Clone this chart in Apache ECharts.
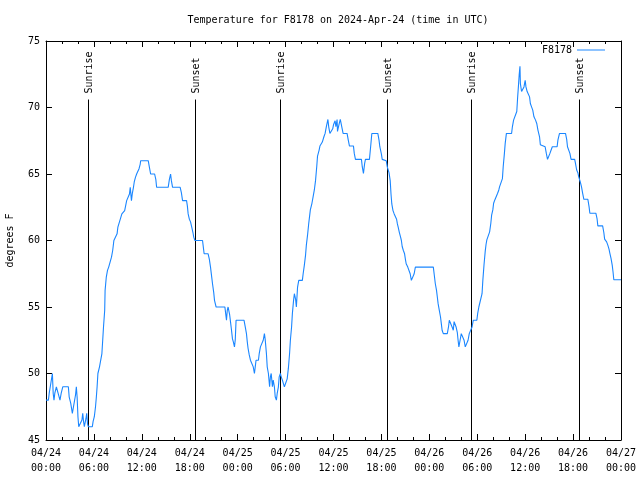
<!DOCTYPE html>
<html>
<head>
<meta charset="utf-8">
<script src="https://cdn.jsdelivr.net/npm/echarts@6/dist/echarts.min.js"></script>
<style>html,body{margin:0;padding:0;background:#fff}#c{width:640px;height:480px}</style>
</head>
<body>
<div id="c"></div>
<script>
// Hours since 2024-04-24 00:00 UTC
const hours = [0.0,0.3,0.4,0.6,0.8,0.9,1.0,1.1,1.3,1.5,1.75,1.9,2.1,2.8,2.9,3.1,3.3,3.5,3.7,3.8,3.9,4.0,4.1,4.3,4.5,4.6,4.7,4.8,5.0,5.1,5.2,5.3,5.8,5.9,6.05,6.2,6.3,6.4,6.5,6.7,6.85,7.0,7.1,7.2,7.35,7.4,7.55,7.7,7.85,8.05,8.2,8.35,8.5,8.75,8.9,9.0,9.2,9.35,9.5,9.7,9.85,10.0,10.1,10.3,10.45,10.55,10.7,10.8,10.95,11.05,11.2,11.35,11.55,11.65,11.8,11.85,12.8,12.95,13.1,13.6,13.75,13.85,15.3,15.45,15.6,15.7,15.85,16.8,16.95,17.1,17.6,17.7,17.8,17.95,18.1,18.25,18.4,18.5,18.65,19.6,19.7,19.8,20.3,20.45,20.6,20.75,20.85,21.0,21.1,21.3,22.4,22.5,22.6,22.7,22.8,23.0,23.1,23.2,23.35,23.45,23.6,23.7,23.8,24.8,24.95,25.1,25.2,25.3,25.45,25.6,25.8,25.95,26.1,26.2,26.3,26.6,26.7,26.85,27.1,27.2,27.35,27.45,27.6,27.7,27.85,28.0,28.1,28.2,28.35,28.45,28.6,28.7,28.85,28.95,29.1,29.2,29.35,29.45,29.6,29.85,30.1,30.2,30.35,30.5,30.6,30.75,30.85,31.0,31.1,31.25,31.35,31.5,31.65,32.1,32.2,32.35,32.5,32.6,32.75,32.9,33.0,33.1,33.3,33.45,33.6,33.75,33.9,34.0,34.2,34.3,34.5,34.6,34.8,34.95,35.1,35.3,35.4,35.55,35.75,35.9,36.0,36.2,36.3,36.45,36.5,36.7,36.85,37.05,37.2,37.7,37.85,38.0,38.5,38.6,38.75,39.5,39.6,39.75,39.9,40.0,40.5,40.65,40.8,41.55,41.7,41.8,42.0,42.1,42.6,42.75,42.95,43.1,43.2,43.3,43.45,43.6,43.75,43.9,44.0,44.1,44.25,44.4,44.5,44.6,44.75,44.9,45.0,45.1,45.3,45.5,45.6,45.75,45.95,46.1,46.25,48.5,48.6,48.75,48.9,49.0,49.1,49.25,49.4,49.5,49.6,49.75,50.25,50.4,50.5,50.7,50.85,51.0,51.1,51.2,51.35,51.5,51.6,51.7,51.85,52.0,52.25,52.35,52.5,52.7,52.85,53.0,53.2,53.35,53.5,53.95,54.05,54.2,54.45,54.6,54.7,54.85,55.0,55.1,55.2,55.4,55.55,55.7,55.8,55.95,56.05,56.2,56.45,56.55,56.7,56.8,57.0,57.15,57.25,57.4,57.5,57.65,58.3,58.4,58.55,58.8,58.95,59.05,59.15,59.25,59.35,59.4,59.55,59.7,59.85,60.0,60.1,60.25,60.4,60.55,60.65,60.8,60.95,61.1,61.3,61.45,61.6,61.8,61.9,62.1,62.5,62.65,62.8,63.0,63.1,63.25,63.4,64.0,64.1,64.3,65.05,65.2,65.3,65.5,65.6,65.75,66.2,66.3,66.45,66.6,66.7,66.9,67.05,67.2,67.35,67.85,68.0,68.1,68.85,69.0,69.1,69.7,69.85,69.95,70.2,70.35,70.5,70.6,70.75,70.9,71.0,71.1,72.0];
const temps = [48,48,48.5,49.25,50,48.5,48,48.5,49,49,48,48.5,49,49,48.25,47.75,47,47,48.4,49,48.2,46.75,46,46,46.5,47,46.4,46,46.6,47,46.2,46,46,46.4,46.75,47.5,48.2,49,50,50.5,50.5,51.5,52.5,53.5,54.75,56.25,57.25,57.75,58,58,58.75,59.25,60,60,60.5,61,61,61.7,62,62,62.25,62.7,63,63,63.5,64,63,63.5,64,64.4,64.75,65,65,65.4,65.75,66,66,65.5,65,65,64.6,64,64,64.6,65,64.5,64,64,63.6,63,63,62.6,62,61.6,61.4,61,60.6,60.25,60,60,59.5,59,59,58.6,58,57.25,56.75,56.1,55.5,55,55,54.5,54,54.75,55,54.4,53.9,53.4,52.6,52.4,52,52.55,54,54,53.5,53,52.4,51.9,51.4,51,51,50.5,50,50.5,51,51,51.5,52,52,52.5,53,52.55,51.5,50.5,50,49,49.75,50,49,49.5,49,48.25,48,48.5,49,49.75,50,49.75,49.5,49,49,49.6,50.4,51.5,52.5,53.5,54.5,55.5,56,55.6,55,56.5,57,57,57.5,58.15,58.9,59.65,60.4,61.3,61.8,62.3,62.8,63.3,63.8,64.5,65.55,66.35,66.8,67.1,67.1,67.4,67.8,68.05,68.55,69.1,68.55,68.05,68.05,68.4,68.7,69,68.55,69.1,68.2,68.75,69.1,69.1,68.05,68.05,67.55,67.1,67.1,66.55,66.1,66.1,65.55,65.05,65.8,66.1,66.1,67.05,68.05,68.05,67.55,67.05,66.5,66.1,66,65.5,65.1,64.5,63.5,62.75,62.25,62,62,61.6,61.25,61,60.6,60.25,60,59.55,59.25,59,58.6,58.25,58,58,57.5,57,57,57.5,58,58,57.5,56.75,56.25,55.75,55.25,54.75,54.25,53.75,53.25,53,53,53.5,54,54,53.5,53.25,53.9,54,53.5,53.1,52.5,52,52.5,53,53,52.5,52,52,52.5,53,53,53.5,54,54,54.5,55,55,56,57,58.2,59.2,59.7,60.05,60.1,60.65,61.3,61.9,62.3,62.8,63.05,63.1,63.55,63.8,64.05,64.05,64.65,65.55,66.55,67.3,68.05,68.05,68.55,69.05,69.05,69.7,70.7,71.55,72.45,73.1,71.8,71.2,71.1,71.55,72.05,71.55,71.2,71.05,70.8,70.3,70.05,69.8,69.3,69.05,68.8,68.3,67.8,67.2,67.05,67.05,66.55,66.1,66.1,66.55,66.8,67.05,67.05,67.55,68.05,68.05,67.6,67.05,66.9,66.55,66.1,66.1,65.8,65.3,65.1,64.8,64.4,64.05,63.55,63.1,63.1,62.55,62.05,62.05,61.65,61.1,61.1,60.6,60.1,59.9,59.65,59.35,59.05,58.65,58.15,57.65,57.05,57.05];
const sunEventHours = [5.3, 18.7, 29.33, 42.72, 53.27, 66.73];
const sunEventLabels = ['Sunrise', 'Sunset', 'Sunrise', 'Sunset', 'Sunrise', 'Sunset'];
const yTicks = [45, 50, 55, 60, 65, 70, 75];

const FONT = '"DejaVu Sans Mono", monospace';
const MARKER_TOP = 70.6;
const LINE_COLOR = '#1a86ff';
const chart = echarts.init(document.getElementById('c'), null, {renderer: 'canvas'});

function pad(n){ return (n < 10 ? '0' : '') + n; }
function xLabel(h){
  const day = 24 + Math.floor(h / 24);
  const hh = Math.round(h % 24);
  return '04/' + pad(day) + '\n' + pad(hh) + ':00';
}

const axisCommon = {
  type: 'value', min: 0, max: 72, interval: 6,
  axisLine: {show: true, onZero: false, lineStyle: {color: '#000', width: 1}},
  axisTick: {show: true, inside: true, length: 6, lineStyle: {color: '#000'}},
  minorTick: {show: true, splitNumber: 3, length: 3, lineStyle: {color: '#000'}},
  splitLine: {show: false}, minorSplitLine: {show: false}
};
const yCommon = {
  type: 'value', min: 45, max: 75, interval: 5,
  axisLine: {show: true, onZero: false, lineStyle: {color: '#000', width: 1}},
  axisTick: {show: true, inside: true, length: 6, lineStyle: {color: '#000'}},
  splitLine: {show: false}
};

chart.setOption({
  animation: false,
  backgroundColor: '#fff',
  title: {
    text: 'Temperature for F8178 on 2024-Apr-24 (time in UTC)',
    left: 333, top: 10, textAlign: 'center',
    textStyle: {fontFamily: FONT, fontSize: 10, fontWeight: 'normal', color: '#000'}
  },
  legend: {
    data: [{name: 'F8178', icon: 'rect'}], right: 30, top: 40, align: 'right',
    itemWidth: 28, itemHeight: 1, itemGap: 7,
    itemStyle: {color: LINE_COLOR},
    textStyle: {fontFamily: FONT, fontSize: 10, color: '#000'}
  },
  grid: {left: 46, right: 19, top: 41, bottom: 40, outerBoundsMode: 'none', containLabel: false},
  xAxis: [
    Object.assign({}, axisCommon, {
      position: 'bottom',
      axisLabel: {formatter: xLabel, fontFamily: FONT, fontSize: 10, color: '#000', lineHeight: 15, margin: 6, showMinLabel: true, showMaxLabel: true}
    }),
    Object.assign({}, axisCommon, {position: 'top', axisLabel: {show: false}})
  ],
  yAxis: [
    Object.assign({}, yCommon, {
      position: 'left',
      name: 'degrees F', nameLocation: 'middle', nameGap: 31, nameRotate: 90,
      nameTextStyle: {fontFamily: FONT, fontSize: 10, color: '#000'},
      axisLabel: {fontFamily: FONT, fontSize: 10, color: '#000', margin: 6,
        formatter: v => (yTicks.indexOf(v) >= 0 ? String(v) : '')}
    }),
    Object.assign({}, yCommon, {position: 'right', axisLabel: {show: false}})
  ],
  series: [
    {
      name: 'F8178', type: 'line', xAxisIndex: 0, yAxisIndex: 0,
      data: hours.map((h, i) => [h, temps[i]]),
      symbol: 'none', showSymbol: false,
      lineStyle: {color: LINE_COLOR, width: 1.1},
      itemStyle: {color: LINE_COLOR}
    },
    {
      name: 'sun', type: 'custom', xAxisIndex: 0, yAxisIndex: 0,
      data: sunEventHours.map(h => [h, 45]),
      encode: {x: 0, y: 1},
      renderItem: function (params, api) {
        const h = api.value(0);
        const p0 = api.coord([h, 45]);
        const p1 = api.coord([h, MARKER_TOP]);
        return {
          type: 'group',
          children: [
            {type: 'line', shape: {x1: Math.round(p0[0]) + 0.5, y1: p0[1], x2: Math.round(p0[0]) + 0.5, y2: p1[1]},
             style: {stroke: '#000', lineWidth: 1}},
            {type: 'text', x: Math.round(p0[0]) + 1, y: p1[1] - 6, rotation: Math.PI / 2,
             style: {text: sunEventLabels[params.dataIndex], fill: '#000', font: '10px ' + FONT,
                     align: 'left', verticalAlign: 'middle'}}
          ]
        };
      }
    }
  ]
});
</script>
</body>
</html>
